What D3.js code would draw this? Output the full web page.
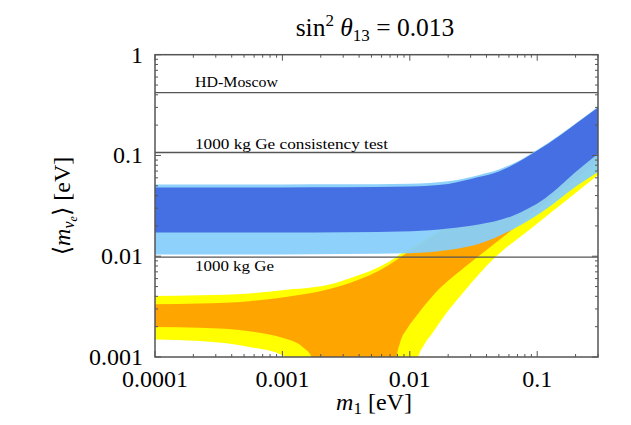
<!DOCTYPE html>
<html><head><meta charset="utf-8">
<script src="https://cdn.jsdelivr.net/npm/d3@7"></script>
<style>
body{margin:0;background:#fff}
svg{display:block}
svg text{font-family:"Liberation Serif","DejaVu Serif","Tinos","Times New Roman","Times","Noto Serif",serif}
</style>
</head><body>
<svg id="c" width="631" height="425"></svg>
<script>
// ---------- data ----------
const xTickValues = [1e-4, 1e-3, 1e-2, 0.1];
const xTickLabels = ["0.0001", "0.001", "0.01", "0.1"];
const yTickValues = [0.001, 0.01, 0.1, 1];
const yTickLabels = ["0.001", "0.01", "0.1", "1"];

const limitValues = [0.42, 0.107, 0.0098];
const limitLabels = ["HD-Moscow", "1000 kg Ge consistency test", "1000 kg Ge"];

// Inverted hierarchy, 3 sigma (light) and best fit (dark): [m1, <m>]
const ihLightUpper = [[1e-4,0.0516],[1e-3,0.0516],[0.003,0.0517],[0.01,0.0525],[0.02,0.0555],[0.0346,0.0638],[0.05,0.0725],[0.07,0.087],[0.096,0.11],[0.15,0.16],[0.2,0.208],[0.3,0.305]];
const ihLightLower = [[1e-4,0.0104],[1e-3,0.0104],[0.003,0.0105],[0.01,0.0107],[0.02,0.0115],[0.0346,0.0132],[0.063,0.0182],[0.1148,0.0287],[0.209,0.0508],[0.3,0.0685]];
const ihDarkUpper = [[1e-4,0.0482],[1e-3,0.0482],[0.003,0.0483],[0.01,0.0492],[0.02,0.0522],[0.0346,0.061],[0.05,0.0695],[0.07,0.085],[0.096,0.108],[0.15,0.157],[0.2,0.205],[0.3,0.300]];
const ihDarkLower = [[1e-4,0.0172],[1e-3,0.0172],[0.003,0.0173],[0.0103,0.0177],[0.02,0.0188],[0.0346,0.0206],[0.063,0.025],[0.1148,0.0375],[0.209,0.0716],[0.3,0.104]];

// Normal hierarchy, 3 sigma (yellow) and best fit (orange)
const nhYellowUpper = [[1e-4,0.00404],[2.25e-4,0.0041],[5.5e-4,0.00427],[1e-3,0.0046],[2.3e-3,0.0052],[3.34e-3,0.006],[6.85e-3,0.0088],[8.66e-3,0.0107],[0.0191,0.0198],[0.05,0.052],[0.1,0.103],[0.3,0.300]];
const nhYellowLower = [[1e-4,0.00149],[2.25e-4,0.00144],[5.5e-4,0.00126],[1e-3,0.00104],[1.1e-3,0.00095],[1.3e-3,0.0006],[1.6e-3,0.0003],[0.01,0.0003],[0.0112,0.0006],[0.0117,0.001],[0.0129,0.00131],[0.01497,0.00171],[0.0202,0.00292],[0.0272,0.0046],[0.047,0.0098],[0.09,0.019],[0.165,0.035],[0.3,0.064]];
const nhOrangeUpper = [[1e-4,0.00334],[2.25e-4,0.0034],[5.5e-4,0.00358],[1e-3,0.0039],[2.3e-3,0.0047],[3.34e-3,0.0054],[6.85e-3,0.0082],[8.66e-3,0.0100],[0.0191,0.0192],[0.05,0.05],[0.1,0.1],[0.3,0.295]];
const nhOrangeLower = [[1e-4,0.00199],[2.25e-4,0.00195],[5.5e-4,0.0018],[1e-3,0.00155],[1.44e-3,0.00126],[1.7e-3,0.001],[1.95e-3,0.0006],[2.4e-3,0.0003],[6e-3,0.0003],[7.6e-3,0.0006],[7.9e-3,0.001],[8.4e-3,0.0014],[9.5e-3,0.0019],[0.0111,0.0025],[0.01486,0.00395],[0.0272,0.00785],[0.0414,0.0119],[0.1,0.029],[0.3,0.088]];

// ---------- layout ----------
const L = 155, R = 598, T = 54.7, B = 357;
const svg = d3.select("#c");

const x = d3.scaleLog().domain([1e-4, 0.3]).range([L, R]);
const y = d3.scaleLog().domain([0.001, 1]).range([B, T]);

svg.append("defs").append("clipPath").attr("id","plot")
  .append("rect").attr("x",L).attr("y",T).attr("width",R-L).attr("height",B-T);

const line = d3.line().x(d => x(d[0])).y(d => y(d[1])).curve(d3.curveMonotoneX);
function bandPath(upper, lower){
  const up = line(upper);
  const lo = line(lower.slice().reverse());
  return up + "L" + lo.slice(1) + "Z";
}

const g = svg.append("g").attr("clip-path","url(#plot)");

// NH bands
g.append("path").attr("d", bandPath(nhYellowUpper, nhYellowLower)).attr("fill","#ffff00");
g.append("path").attr("d", bandPath(nhOrangeUpper, nhOrangeLower)).attr("fill","#ffa500");

// limit lines
const labelDy = [-6, -4, 14];
limitValues.forEach((v,i) => {
  g.append("line").attr("x1",L).attr("x2",R).attr("y1",y(v)).attr("y2",y(v))
    .attr("stroke","#555").attr("stroke-width",1.3);
});

// IH bands
g.append("path").attr("d", bandPath(ihLightUpper, ihLightLower)).attr("fill","#87cefa").attr("fill-opacity",0.94);
g.append("path").attr("d", bandPath(ihDarkUpper, ihDarkLower)).attr("fill","#4169e1").attr("fill-opacity",0.94);

function txt(sel){ return sel.append("text").attr("fill","#000"); }

// limit labels
const labelWidths = [83, 193, 79];
limitLabels.forEach((t,i) => {
  txt(svg).attr("x",195).attr("y",y(limitValues[i]) + labelDy[i])
    .attr("font-size",14).attr("textLength",labelWidths[i]).attr("lengthAdjust","spacingAndGlyphs")
    .text(t);
});

// ---------- axes / frame ----------
const axG = svg.append("g").attr("stroke","#555").attr("stroke-width",1);
function tickVals(dom){
  const out = [];
  for (let e = -5; e <= 1; e++) for (let k = 1; k <= 9; k++) {
    const v = k * Math.pow(10, e);
    if (v >= dom[0]*0.9999 && v <= dom[1]*1.0001) out.push({v, major: k === 1});
  }
  return out;
}
tickVals(x.domain()).forEach(t => {
  const len = t.major ? 6 : 3;
  const px = x(t.v);
  axG.append("line").attr("x1",px).attr("x2",px).attr("y1",B).attr("y2",B-len);
  axG.append("line").attr("x1",px).attr("x2",px).attr("y1",T).attr("y2",T+len);
});
tickVals(y.domain()).forEach(t => {
  const len = t.major ? 6 : 3;
  const py = y(t.v);
  axG.append("line").attr("x1",L).attr("x2",L+len).attr("y1",py).attr("y2",py);
  axG.append("line").attr("x1",R).attr("x2",R-len).attr("y1",py).attr("y2",py);
});
svg.append("rect").attr("x",L).attr("y",T).attr("width",R-L).attr("height",B-T)
  .attr("fill","none").attr("stroke","#555").attr("stroke-width",1.5);

// tick labels
xTickValues.forEach((v,i) => {
  txt(svg).attr("x",x(v)).attr("y",387).attr("text-anchor","middle")
    .attr("font-size",24).text(xTickLabels[i]);
});
yTickValues.forEach((v,i) => {
  txt(svg).attr("x",143).attr("y",y(v)+8).attr("text-anchor","end")
    .attr("font-size",24).text(yTickLabels[i]);
});

// axis titles
const xt = txt(svg).attr("x",374).attr("y",410).attr("text-anchor","middle").attr("font-size",24);
xt.append("tspan").attr("font-style","italic").text("m");
xt.append("tspan").attr("font-size",17).attr("dy",4).text("1");
xt.append("tspan").attr("dy",-4).text(" [eV]");

const yt = txt(svg).attr("transform","translate(70,206) rotate(-90)").attr("text-anchor","middle").attr("font-size",24);
yt.append("tspan").text("\u27E8");
yt.append("tspan").attr("font-style","italic").text("m");
yt.append("tspan").attr("font-style","italic").attr("font-size",16).attr("dy",4).text("\u03BD");
yt.append("tspan").attr("font-style","italic").attr("font-size",12).attr("dy",3).text("e");
yt.append("tspan").attr("dy",-7).text("\u27E9 [eV]");

// title
const tt = txt(svg).attr("x",375).attr("y",36).attr("text-anchor","middle").attr("font-size",25.5);
tt.append("tspan").text("sin");
tt.append("tspan").attr("font-size",17).attr("dy",-10).text("2");
tt.append("tspan").attr("dy",10).text(" ");
tt.append("tspan").attr("font-style","italic").text("\u03B8");
tt.append("tspan").attr("font-size",17).attr("dy",5).text("13");
tt.append("tspan").attr("dy",-5).text(" = 0.013");
</script>
</body></html>
